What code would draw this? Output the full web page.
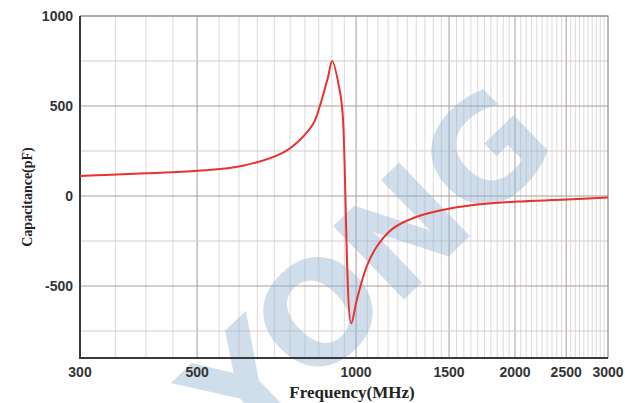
<!DOCTYPE html>
<html>
<head>
<meta charset="utf-8">
<script src="https://cdn.jsdelivr.net/npm/d3@7"></script>
<style>
  body { margin: 0; background: #fff; }
</style>
</head>
<body>
<div id="chart"></div>
<script>
// frequency (MHz) and capacitance (pF)
const freq = [300, 335, 400, 502, 610, 724, 776, 829, 854, 873, 885, 901, 933, 944, 979, 1003, 1047, 1094, 1175, 1303, 1506, 1740, 2015, 2506, 3000]
const cap = [111, 117, 126, 140, 168, 238, 302, 400, 500, 598, 661, 750, 572, 439, -707, -578, -393, -282, -180, -115, -69, -44, -31, -20, -8]

const xTicks = [300, 500, 1000, 1500, 2000, 2500, 3000]
const xMajor = [500, 1000, 1500, 2000, 2500]
const yTicks = [1000, 500, 0, -500]
const yGrid = [1000, 750, 500, 250, 0, -250, -500, -750]

const width = 625
const height = 403
const margin = [16, 17, 45, 80] // top right bottom left

const svg = d3
  .select("#chart")
  .append("svg")
  .attr("width", width)
  .attr("height", height)
  .style("font-family", "'Liberation Sans', Arial, sans-serif")

const x = d3
  .scaleLog()
  .domain([300, 3000])
  .range([margin[3], width - margin[1]])
const y = d3
  .scaleLinear()
  .domain([-900, 1000])
  .range([height - margin[2], margin[0]])

// minor vertical grid every 50 MHz
const xMinor = d3.range(350, 3000, 50).filter(f => !xMajor.includes(f))
svg
  .append("g")
  .selectAll("line")
  .data(xMinor)
  .join("line")
  .attr("x1", d => x(d))
  .attr("x2", d => x(d))
  .attr("y1", y(1000))
  .attr("y2", y(-900))
  .attr("stroke", "#d9d4d4")
  .attr("stroke-width", 0.9)

svg
  .append("g")
  .selectAll("line")
  .data(xMajor)
  .join("line")
  .attr("x1", d => x(d))
  .attr("x2", d => x(d))
  .attr("y1", y(1000))
  .attr("y2", y(-900))
  .attr("stroke", "#a89c9c")
  .attr("stroke-width", 1)

svg
  .append("g")
  .selectAll("line")
  .data(yGrid)
  .join("line")
  .attr("x1", x(300))
  .attr("x2", x(3000))
  .attr("y1", d => y(d))
  .attr("y2", d => y(d))
  .attr("stroke", d => (d % 500 === 0 ? "#a89c9c" : "#d4cccc"))
  .attr("stroke-width", d => (d % 500 === 0 ? 1.1 : 1))

// watermark
svg
  .append("text")
  .attr("transform", "translate(374,275)rotate(-44)")
  .attr("text-anchor", "middle")
  .attr("dominant-baseline", "middle")
  .style("font-family", "'DejaVu Sans', sans-serif")
  .style("font-weight", "bold")
  .style("font-size", "140px")
  .style("letter-spacing", "-2px")
  .attr("fill", "#8fb0d2")
  .attr("fill-opacity", 0.42)
  .text("YONG")

// frame
svg
  .append("path")
  .attr("d", `M${x(300)},${y(1000)}H${x(3000)}V${y(-900)}`)
  .attr("fill", "none")
  .attr("stroke", "#8a8a8a")
  .attr("stroke-width", 1.2)
svg
  .append("path")
  .attr("d", `M${x(300)},${y(1000)}V${y(-900)}H${x(3000)}`)
  .attr("fill", "none")
  .attr("stroke", "#3a3a3a")
  .attr("stroke-width", 2)

const line = d3
  .line()
  .x((d, i) => x(freq[i]))
  .y(d => y(d))
  .curve(d3.curveCatmullRom.alpha(0.5))

svg
  .append("path")
  .datum(cap)
  .attr("d", line)
  .attr("fill", "none")
  .attr("stroke", "#e8322e")
  .attr("stroke-width", 2)
  .attr("stroke-linejoin", "round")

// tick labels
svg
  .append("g")
  .selectAll("text")
  .data(yTicks)
  .join("text")
  .attr("x", margin[3] - 7)
  .attr("y", d => y(d))
  .attr("dy", "0.35em")
  .attr("text-anchor", "end")
  .attr("fill", "#333")
  .style("font-weight", "bold")
  .style("font-size", "14px")
  .text(d => d)

svg
  .append("g")
  .selectAll("text")
  .data(xTicks)
  .join("text")
  .attr("x", d => x(d))
  .attr("y", height - margin[2] + 19)
  .attr("text-anchor", "middle")
  .attr("fill", "#333")
  .style("font-weight", "bold")
  .style("font-size", "14px")
  .text(d => d)

// axis titles
svg
  .append("text")
  .attr("x", 352)
  .attr("y", 398)
  .attr("text-anchor", "middle")
  .attr("fill", "#222")
  .style("font-family", "'Liberation Serif', 'Times New Roman', serif")
  .style("font-size", "17px")
  .style("font-weight", "bold")
  .text("Frequency(MHz)")

svg
  .append("text")
  .attr("transform", "translate(32,197)rotate(-90)")
  .attr("text-anchor", "middle")
  .attr("fill", "#222")
  .style("font-family", "'Liberation Serif', 'Times New Roman', serif")
  .style("font-size", "14px")
  .style("font-weight", "bold")
  .text("Capacitance(pF)")
</script>
</body>
</html>
